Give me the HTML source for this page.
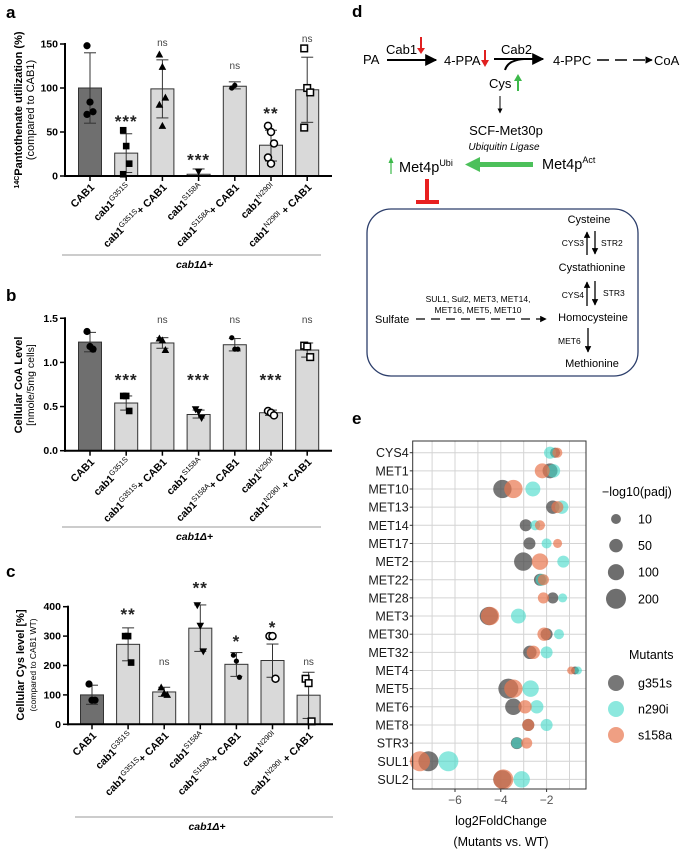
<!DOCTYPE html>
<html><head><meta charset="utf-8"><style>
body{margin:0;background:#fff}
svg{display:block;font-family:"Liberation Sans",Arial,sans-serif}
</style></head><body>
<svg id="fig" xmlns="http://www.w3.org/2000/svg" width="681" height="850" viewBox="0 0 681 850">
<defs>
<marker id="ah" viewBox="0 0 10 10" refX="9" refY="5" markerWidth="6" markerHeight="6" orient="auto"><path d="M0,0 L10,5 L0,10 z" fill="#000"/></marker>
<marker id="ahs" viewBox="0 0 10 10" refX="9" refY="5" markerWidth="5" markerHeight="5" orient="auto"><path d="M0,0 L10,5 L0,10 z" fill="#000"/></marker>
</defs>
<g font-weight="bold" font-size="17">
<text x="6" y="18">a</text>
<text x="6" y="301">b</text>
<text x="6" y="577">c</text>
<text x="352" y="17">d</text>
<text x="352" y="424">e</text>
</g>
<g id="pa"></g>
<g id="pb"></g>
<g id="pc"></g>

<!-- Panel d diagram -->
<g font-size="13">
<text x="363" y="64">PA</text>
<line x1="387" y1="60" x2="436" y2="60" stroke="#000" stroke-width="2" marker-end="url(#ah)"/>
<text x="386" y="54">Cab1</text>
<line x1="421" y1="37" x2="421" y2="52" stroke="#e02020" stroke-width="2"/><path d="M417,48 L421,54 L425,48z" fill="#e02020"/>
<text x="444" y="65">4-PPA</text>
<line x1="485" y1="50" x2="485" y2="64" stroke="#e02020" stroke-width="2"/><path d="M481,60 L485,67 L489,60z" fill="#e02020"/>
<line x1="494" y1="59" x2="543" y2="59" stroke="#000" stroke-width="2" marker-end="url(#ah)"/>
<path d="M505,70 Q508,60 524,59" fill="none" stroke="#000" stroke-width="2"/>
<text x="501" y="54">Cab2</text>
<text x="553" y="65">4-PPC</text>
<line x1="597" y1="60" x2="652" y2="60" stroke="#000" stroke-width="1.5" stroke-dasharray="12,6" marker-end="url(#ahs)"/>
<text x="654" y="65">CoA</text>
<text x="489" y="88">Cys</text>
<line x1="518" y1="91" x2="518" y2="79" stroke="#3cb94a" stroke-width="2"/><path d="M514,81 L518,74 L522,81z" fill="#3cb94a"/>
<line x1="500" y1="96" x2="500" y2="113" stroke="#000" stroke-width="1" marker-end="url(#ahs)"/>
<text x="506" y="135" text-anchor="middle">SCF-Met30p</text>
<text x="504" y="150" text-anchor="middle" font-style="italic" font-size="10">Ubiquitin Ligase</text>
<line x1="391" y1="174" x2="391" y2="162" stroke="#3cb94a" stroke-width="1.2"/><path d="M388.5,163 L391,157 L393.5,163z" fill="#3cb94a"/>
<text x="399" y="172" font-size="14.5">Met4p<tspan font-size="9" dy="-6">Ubi</tspan></text>
<line x1="533" y1="164.5" x2="478" y2="164.5" stroke="#4cc05a" stroke-width="5"/><path d="M480,157 L465,164.5 L480,172z" fill="#4cc05a"/>
<text x="542" y="169" font-size="14.5">Met4p<tspan font-size="9" dy="-6">Act</tspan></text>
<line x1="427" y1="179" x2="427" y2="202" stroke="#e82020" stroke-width="4"/>
<line x1="416" y1="202" x2="439" y2="202" stroke="#e82020" stroke-width="4"/>
<rect x="367" y="209" width="271" height="167" rx="24" fill="none" stroke="#2c3e6b" stroke-width="1.3"/>
<g font-size="10.5">
<text x="589" y="223" text-anchor="middle" font-size="11">Cysteine</text>
<text x="584" y="246" text-anchor="end" font-size="8.5">CYS3</text>
<text x="601" y="246" font-size="8.5">STR2</text>
<line x1="587" y1="255" x2="587" y2="232" stroke="#000" stroke-width="1.3" marker-end="url(#ahs)"/>
<line x1="595" y1="231" x2="595" y2="254" stroke="#000" stroke-width="1.3" marker-end="url(#ahs)"/>
<text x="592" y="271" text-anchor="middle" font-size="11">Cystathionine</text>
<text x="584" y="298" text-anchor="end" font-size="8.5">CYS4</text>
<text x="603" y="296" font-size="8.5">STR3</text>
<line x1="587" y1="306" x2="587" y2="282" stroke="#000" stroke-width="1.3" marker-end="url(#ahs)"/>
<line x1="595" y1="281" x2="595" y2="305" stroke="#000" stroke-width="1.3" marker-end="url(#ahs)"/>
<text x="593" y="321" text-anchor="middle" font-size="11">Homocysteine</text>
<text x="558" y="344" font-size="8.5">MET6</text>
<line x1="588" y1="328" x2="588" y2="352" stroke="#000" stroke-width="1.3" marker-end="url(#ahs)"/>
<text x="592" y="367" text-anchor="middle" font-size="11">Methionine</text>
<text x="375" y="323" font-size="11">Sulfate</text>
<line x1="416" y1="319" x2="546" y2="319" stroke="#000" stroke-width="1.3" stroke-dasharray="9,6" marker-end="url(#ahs)"/>
<text x="478" y="302" text-anchor="middle" font-size="8.5">SUL1, Sul2, MET3, MET14,</text>
<text x="478" y="313" text-anchor="middle" font-size="8.5">MET16, MET5, MET10</text>
</g>
</g>
<g id="pe"></g>
</svg>
<script>
// ---------- Panel a data ----------
const aCats = ["CAB1","cab1|G351S|","cab1|G351S|+ CAB1","cab1|S158A|","cab1|S158A|+ CAB1","cab1|N290I|","cab1|N290I| + CAB1"];
const aValues = [100, 26, 99, 2, 102, 35, 98];
const aErrLo = [60, 4, 66, 0, 99, 17, 61];
const aErrHi = [140, 48, 132, 8, 107, 52, 135];
const aPoints = [[148,84,73,70],[52,34,14,2],[138,124,89,81,57],[5],[100,103],[57,50,37,21,14],[145,100,95,55]];
const aSig = ["", "***", "ns", "***", "ns", "**", "ns"];
const aSigY = [0, 66, 152, 22, 126, 75, 157];
const aTicks = [0, 50, 100, 150];
// ---------- Panel b data ----------
const bValues = [1.23, 0.54, 1.22, 0.41, 1.20, 0.43, 1.14];
const bErrLo = [1.12, 0.46, 1.16, 0.37, 1.13, 0.40, 1.06];
const bErrHi = [1.34, 0.62, 1.28, 0.46, 1.27, 0.46, 1.22];
const bPoints = [[1.35,1.18,1.15],[0.62,0.62,0.45],[1.27,1.25,1.14],[0.47,0.44,0.37],[1.28,1.15,1.15],[0.45,0.43,0.40],[1.19,1.18,1.06]];
const bSig = ["", "***", "ns", "***", "ns", "***", "ns"];
const bSigY = [0, 0.84, 1.49, 0.84, 1.49, 0.84, 1.49];
const bTicks = [0, 0.5, 1.0, 1.5];
// ---------- Panel c data ----------
const cValues = [100, 272, 110, 327, 204, 217, 99];
const cErrLo = [68, 216, 95, 248, 163, 160, 20];
const cErrHi = [133, 328, 126, 406, 244, 273, 177];
const cPoints = [[137,82,82],[300,300,210],[125,105,100],[405,335,248],[235,215,160],[300,300,155],[155,140,10]];
const cSig = ["", "**", "ns", "**", "*", "*", "ns"];
const cSigY = [0, 385, 215, 475, 294, 341, 215];
const cTicks = [0, 100, 200, 300, 400];
// ---------- Panel e data ----------
const eGenes = ["CYS4","MET1","MET10","MET13","MET14","MET17","MET2","MET22","MET28","MET3","MET30","MET32","MET4","MET5","MET6","MET8","STR3","SUL1","SUL2"];
const eG = [-1.63,-1.85,-3.93,-1.73,-2.91,-2.75,-3.02,-2.29,-1.73,-4.52,-2.0,-2.73,-0.76,-3.67,-3.45,-2.8,-3.3,-7.16,-3.93];
const eN = [-1.85,-1.7,-2.6,-1.34,-2.5,-2.0,-1.27,-2.22,-1.3,-3.23,-1.46,-2.0,-0.63,-2.7,-2.43,-2.0,-3.3,-6.29,-3.09];
const eS = [-1.53,-2.19,-3.45,-1.53,-2.29,-1.52,-2.29,-2.14,-2.14,-4.47,-2.11,-2.58,-0.93,-3.45,-2.94,-2.8,-2.87,-7.53,-3.89];
const ePG = [11,75,153,48,30,30,153,30,20,153,30,48,1,200,107,30,30,200,153];
const ePN = [30,48,75,48,11,11,30,30,5,75,11,30,1,107,48,30,20,200,107];
const ePS = [11,75,153,30,11,5,107,20,20,153,48,48,1,153,48,30,20,200,200];
const eSizeLegend = [10, 50, 100, 200];
const eXTicks = [-6, -4, -2];

const NS = "http://www.w3.org/2000/svg";
function mk(parent, tag, attrs){const e=document.createElementNS(NS,tag);for(const k in attrs)e.setAttribute(k,attrs[k]);parent.appendChild(e);return e;}

function barPanel(gid, cfg){
  const g=document.getElementById(gid);
  const X=cfg.axisX, y0=cfg.y0, k=cfg.pxPer, x0=cfg.x0, step=cfg.step, bw=23;
  const ys=v=>y0-v*k;
  cfg.values.forEach((v,i)=>{
    const cx=x0+i*step;
    const r=mk(g,'rect',{x:cx-bw/2,y:ys(v),width:bw,height:v*k,fill:i===0?'#6f6f6f':'#d9d9d9',stroke:'#333','stroke-width':1});
    
    
    const lo=ys(cfg.lo[i]),hi=ys(cfg.hi[i]);
    mk(g,'line',{x1:cx,y1:lo,x2:cx,y2:hi,stroke:'#333','stroke-width':1});
    mk(g,'line',{x1:cx-6,y1:lo,x2:cx+6,y2:lo,stroke:'#333','stroke-width':1});
    mk(g,'line',{x1:cx-6,y1:hi,x2:cx+6,y2:hi,stroke:'#333','stroke-width':1});
    const pts=cfg.points[i];
    pts.forEach((p,j)=>{
      const px=cx+(pts.length>1?((j%3)-1)*3:0), py=ys(p);
      let m;
      if(i===0||i===4) m=mk(g,'circle',{cx:px,cy:py,r:i===4?2.6:3.6,fill:'#000'});
      else if(i===1) m=mk(g,'rect',{x:px-3.3,y:py-3.3,width:6.6,height:6.6,fill:'#000'});
      else if(i===2) m=mk(g,'path',{d:`M${px},${py-4}L${px+3.8},${py+3}L${px-3.8},${py+3}z`,fill:'#000'});
      else if(i===3) m=mk(g,'path',{d:`M${px},${py+4}L${px+3.8},${py-3}L${px-3.8},${py-3}z`,fill:'#000'});
      else if(i===5) m=mk(g,'circle',{cx:px,cy:py,r:3.5,fill:'#fff',stroke:'#000','stroke-width':1.5});
      else m=mk(g,'rect',{x:px-3.3,y:py-3.3,width:6.6,height:6.6,fill:'#fff',stroke:'#000','stroke-width':1.5});
      
      
    });
    if(cfg.sig[i]){
      const isStar=cfg.sig[i].indexOf('*')>=0;
      const t=mk(g,'text',{x:cx,y:ys(cfg.sigY[i])+(isStar?9:4),'text-anchor':'middle','font-size':isStar?17:10,'font-weight':isStar?'bold':'normal',fill:isStar?'#222':'#444','letter-spacing':isStar?1:0});
      t.textContent=cfg.sig[i];
      
      
    }
    const lab=mk(g,'text',{transform:`translate(${cx+5},${y0+12}) rotate(-45)`,'text-anchor':'end','font-size':10.5,'font-weight':'bold'});
    
    
    const parts=aCats[i].split('|');
    parts.forEach((p,pi)=>{if(!p)return;const ts=mk(lab,'tspan',{});ts.textContent=p;if(pi===1){ts.setAttribute('font-size','7.5');ts.setAttribute('font-weight','normal');ts.setAttribute('baseline-shift','super');}});
    mk(g,'line',{x1:cx,y1:y0,x2:cx,y2:y0+5,stroke:'#000','stroke-width':1.5});
  });
  const ya=mk(g,'line',{x1:X,y1:y0+1,x2:X,y2:ys(cfg.ticks[cfg.ticks.length-1])-1,stroke:'#000','stroke-width':2});
  
  
  const xa=mk(g,'line',{x1:X-1,y1:y0,x2:cfg.xEnd,y2:y0,stroke:'#000','stroke-width':2});
  
  
  cfg.ticks.forEach(t=>{
    mk(g,'line',{x1:X-5,y1:ys(t),x2:X,y2:ys(t),stroke:'#000','stroke-width':1.5});
    const tl=mk(g,'text',{x:X-7,y:ys(t)+3.5,'text-anchor':'end','font-size':10.5,'font-weight':'bold'});
    tl.textContent=cfg.fmt(t);
    
    
  });
  mk(g,'line',{x1:cfg.gl[0],y1:cfg.gl[2],x2:cfg.gl[1],y2:cfg.gl[2],stroke:'#999','stroke-width':1});
  const gt=mk(g,'text',{x:(cfg.gl[0]+cfg.gl[1])/2+3,y:cfg.gl[2]+13,'text-anchor':'middle','font-size':10.5,'font-weight':'bold','font-style':'italic'});
  gt.textContent='cab1\u0394+';
  
  
  const yt=mk(g,'text',{transform:`translate(${cfg.titleX},${cfg.titleY}) rotate(-90)`,'text-anchor':'middle','font-size':11,'font-weight':'bold'});
  
  
  yt.innerHTML=cfg.title1;
  const yt2=mk(g,'text',{transform:`translate(${cfg.titleX+12},${cfg.titleY}) rotate(-90)`,'text-anchor':'middle','font-size':cfg.t2size});
  yt2.textContent=cfg.title2;
  
  
}

barPanel('pa',{values:aValues,lo:aErrLo,hi:aErrHi,points:aPoints,sig:aSig,sigY:aSigY,ticks:aTicks,fmt:t=>String(t),
  axisX:65,y0:176,pxPer:0.88,x0:90,step:36.2,xEnd:332,gl:[62,321,255],titleX:22,titleY:110,
  title1:'<tspan font-size="7" baseline-shift="super">14C</tspan>Pantothenate utilization (%)',title2:'(compared to CAB1)',t2size:11});
barPanel('pb',{values:bValues,lo:bErrLo,hi:bErrHi,points:bPoints,sig:bSig,sigY:bSigY,ticks:bTicks,fmt:t=>t.toFixed(1),
  axisX:65,y0:450.7,pxPer:88.3,x0:90,step:36.2,xEnd:332,gl:[62,321,527],titleX:22,titleY:385,
  title1:'Cellular CoA Level',title2:'[nmole/5mg cells]',t2size:10.5});
barPanel('pc',{values:cValues,lo:cErrLo,hi:cErrHi,points:cPoints,sig:cSig,sigY:cSigY,ticks:cTicks,fmt:t=>String(t),
  axisX:68,y0:724.3,pxPer:0.294,x0:92,step:36.1,xEnd:333,gl:[75,333,817],titleX:24,titleY:665,
  title1:'Cellular Cys level [%]',title2:'(compared to CAB1 WT)',t2size:8.5});

// ---------- Panel e ----------
(function(){
  const g=document.getElementById('pe');
  const L=412.7,R=586,T=441,B=789;
  const xs=v=>455+(v+6)*22.9;
  const ys=i=>452.7+i*18.15;
  const rad=v=>3.5+6.5*Math.sqrt(v/200);
  mk(g,'rect',{x:L,y:T,width:R-L,height:B-T,fill:'#fff'});
  for(let v=-7;v<=-1;v++) mk(g,'line',{x1:xs(v),y1:T,x2:xs(v),y2:B,stroke:'#d4d4d4','stroke-width':1});
  eGenes.forEach((gn,i)=>{
    mk(g,'line',{x1:L,y1:ys(i),x2:R,y2:ys(i),stroke:'#d4d4d4','stroke-width':1});
    mk(g,'line',{x1:L-3,y1:ys(i),x2:L,y2:ys(i),stroke:'#333','stroke-width':1});
    const t=mk(g,'text',{x:L-4,y:ys(i)+4.5,'text-anchor':'end','font-size':12.5,fill:'#1a1a1a'});
    t.textContent=gn;
    
    
  });
  const series=[[eG,ePG,'#4a4a4a',0.75,'g351s'],[eN,ePN,'#40d8c8',0.6,'n290i'],[eS,ePS,'#e8764e',0.7,'s158a']];
  series.forEach(s=>{
    s[0].forEach((v,i)=>{
      const c=mk(g,'circle',{cx:xs(v),cy:ys(i),r:rad(s[1][i]),fill:s[2],'fill-opacity':s[3]});
      
      
    });
  });
  mk(g,'rect',{x:L,y:T,width:R-L,height:B-T,fill:'none',stroke:'#333','stroke-width':1});
  eXTicks.forEach(v=>{
    mk(g,'line',{x1:xs(v),y1:B,x2:xs(v),y2:B+3,stroke:'#333','stroke-width':1});
    const t=mk(g,'text',{x:xs(v),y:B+15,'text-anchor':'middle','font-size':12,fill:'#555'});
    t.textContent='\u2212'+Math.abs(v);
    
    
  });
  const x1=mk(g,'text',{x:501,y:825,'text-anchor':'middle','font-size':12.5});
  x1.textContent='log2FoldChange';
  
  
  const x2=mk(g,'text',{x:501,y:846,'text-anchor':'middle','font-size':12.5});
  x2.textContent='(Mutants vs. WT)';
  
  
  const lt=mk(g,'text',{x:602,y:496,'font-size':12.5});
  lt.textContent='\u2212log10(padj)';
  
  
  eSizeLegend.forEach((v,i)=>{
    const yy=519+i*26.6;
    const c=mk(g,'circle',{cx:616,cy:yy,r:rad(v),fill:'#4a4a4a','fill-opacity':0.8});
    
    
    const t=mk(g,'text',{x:638,y:yy+4.5,'font-size':12.5});
    t.textContent=String(v);
  });
  const mt=mk(g,'text',{x:629,y:659,'font-size':12.5});
  mt.textContent='Mutants';
  
  
  series.forEach((s,i)=>{
    const yy=683+i*26;
    const c=mk(g,'circle',{cx:616,cy:yy,r:8,fill:s[2],'fill-opacity':s[3]});
    
    
    const t=mk(g,'text',{x:638,y:yy+4.5,'font-size':12.5});
    t.textContent=s[4];
  });
})();
</script>
</body></html>
